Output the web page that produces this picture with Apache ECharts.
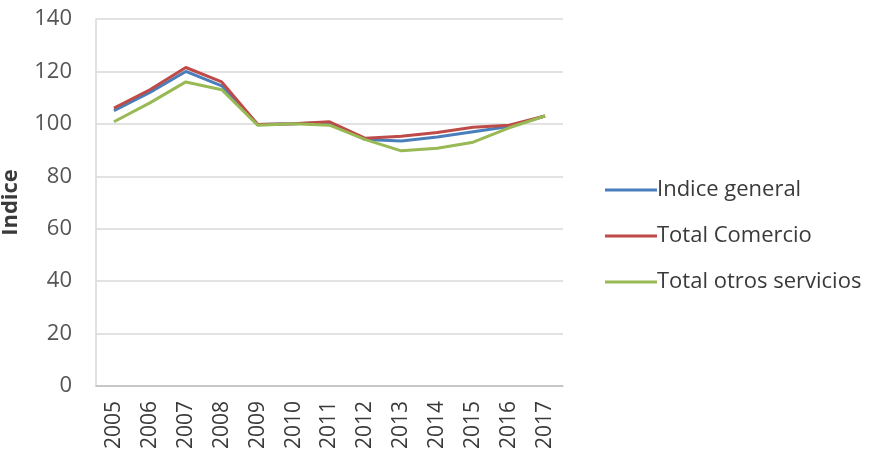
<!DOCTYPE html>
<html>
<head>
<meta charset="utf-8">
<script src="https://cdn.jsdelivr.net/npm/echarts@6/dist/echarts.min.js"></script>
<style>
  html, body { margin: 0; padding: 0; background: #fff; }
  #chart { width: 873px; height: 465px; }
</style>
</head>
<body>
<div id="chart"></div>
<script>
// 年份
const years = ["2005", "2006", "2007", "2008", "2009", "2010", "2011", "2012", "2013", "2014", "2015", "2016", "2017"];

// 三条线的数值
const indiceGeneral = [105, 112, 120, 114.5, 99.8, 100, 100.5, 94, 93.5, 95, 97, 99, 103];
const totalComercio = [106, 113, 121.5, 116, 99.8, 100, 100.8, 94.5, 95.3, 96.7, 98.7, 99.5, 103];
const totalOtros = [100.8, 108, 116, 113, 99.5, 100, 99.5, 94, 89.7, 90.7, 93, 98.5, 103];

const seriesNames = ["Indice general", "Total Comercio", "Total otros servicios"];
const seriesColors = ["#4A7EBB", "#BE4B48", "#98B954"];

const myChart = echarts.init(document.querySelector("#chart"));

const makeLine = (name, data, color) => ({
  name,
  type: "line",
  data,
  symbol: "none",
  lineStyle: { width: 3, color },
  itemStyle: { color },
});

myChart.setOption({
  animation: false,
  grid: {
    left: 96,
    right: 310,
    top: 19,
    bottom: 79,
    containLabel: false,
    outerBoundsMode: "none",
  },
  legend: {
    orient: "vertical",
    left: 600,
    top: 172,
    itemWidth: 52,
    itemHeight: 3,
    itemGap: 20,
    icon: "rect",
    textStyle: {
      fontFamily: "Open Sans",
      fontSize: 22,
      color: "#3a3a3a",
      padding: [0, 0, 0, -5],
      lineHeight: 26,
    },
    data: seriesNames,
  },
  xAxis: {
    type: "category",
    data: years,
    boundaryGap: true,
    axisLine: { lineStyle: { color: "#bfbfbf", width: 1.5 } },
    axisTick: { show: false },
    axisLabel: {
      rotate: 90,
      margin: 15,
      fontFamily: "Open Sans",
      fontSize: 21,
      color: "#3a3a3a",
    },
  },
  yAxis: {
    type: "value",
    min: 0,
    max: 140,
    interval: 20,
    name: "Indice",
    nameLocation: "middle",
    nameGap: 74,
    nameTextStyle: {
      fontFamily: "Open Sans",
      fontSize: 22,
      fontWeight: "bold",
      color: "#3a3a3a",
    },
    axisLine: { show: true, lineStyle: { color: "#d9d9d9", width: 1.5 } },
    axisTick: { show: false },
    axisLabel: {
      margin: 24,
      fontFamily: "Open Sans",
      fontSize: 22,
      color: "#555555",
    },
    splitLine: { lineStyle: { color: "#d9d9d9", width: 1.5 } },
  },
  series: [
    makeLine(seriesNames[0], indiceGeneral, seriesColors[0]),
    makeLine(seriesNames[1], totalComercio, seriesColors[1]),
    makeLine(seriesNames[2], totalOtros, seriesColors[2]),
  ],
});
</script>
</body>
</html>
